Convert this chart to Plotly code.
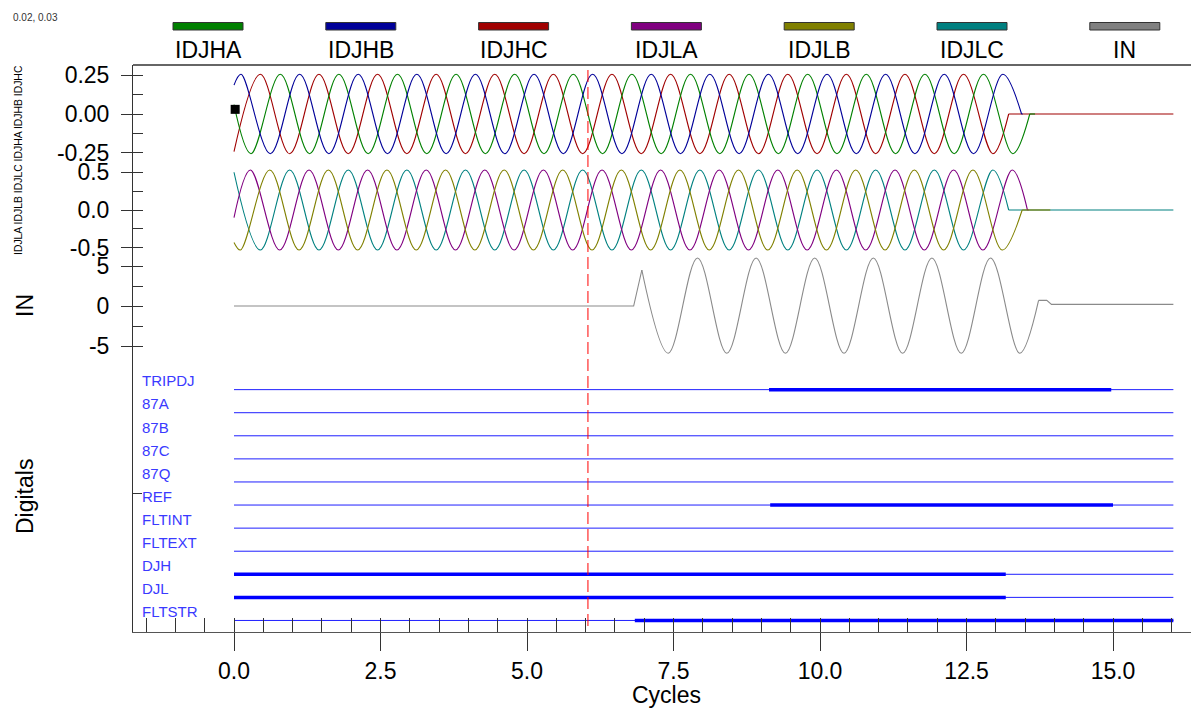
import plotly.graph_objects as go

# ---------------- data ----------------
X_END = 16.03            # last sample (cycles)
CURSOR = 6.04            # red cursor position (cycles)
READOUT = (0.02, 0.03)   # cursor read-out (cycles, value)

legend_names = ["IDJHA", "IDJHB", "IDJHC", "IDJLA", "IDJLB", "IDJLC", "IN"]
legend_colors = ["#008000", "#000099", "#a00000", "#800080", "#808000", "#008080", "#808080"]

# High-side currents: start value, successive peaks/troughs, point where the current stops
HA_t = [0.0, 0.29, 0.79, 1.29, 1.79, 2.29, 2.79, 3.29, 3.79, 4.29, 4.79, 5.29, 5.79, 6.29, 6.79,
        7.29, 7.79, 8.29, 8.79, 9.29, 9.79, 10.29, 10.79, 11.29, 11.79, 12.29, 12.79, 13.29, 13.58]
HA_v = [0.06, -0.256, 0.256, -0.256, 0.256, -0.256, 0.256, -0.256, 0.256, -0.256, 0.256, -0.256, 0.256,
        -0.256, 0.256, -0.256, 0.256, -0.256, 0.256, -0.256, 0.256, -0.256, 0.256, -0.256, 0.256,
        -0.256, 0.256, -0.256, 0.0]
HA_rest = [13.58, 13.67]

HB_t = [0.0, 0.12, 0.62, 1.12, 1.62, 2.12, 2.62, 3.12, 3.62, 4.12, 4.62, 5.12, 5.62, 6.12, 6.62,
        7.12, 7.62, 8.12, 8.62, 9.12, 9.62, 10.12, 10.62, 11.12, 11.62, 12.12, 12.62, 13.12, 13.44]
HB_v = [0.186, 0.256, -0.256, 0.256, -0.256, 0.256, -0.256, 0.256, -0.256, 0.256, -0.256, 0.256, -0.256,
        0.256, -0.256, 0.256, -0.256, 0.256, -0.256, 0.256, -0.256, 0.256, -0.256, 0.256, -0.256,
        0.256, -0.256, 0.256, 0.0]
HB_rest = [13.44, 13.46]

HC_t = [0.0, 0.45, 0.95, 1.45, 1.95, 2.45, 2.95, 3.45, 3.95, 4.45, 4.95, 5.45, 5.95, 6.45, 6.95,
        7.45, 7.95, 8.45, 8.95, 9.45, 9.95, 10.45, 10.95, 11.45, 11.95, 12.45, 12.95, 13.22]
HC_v = [-0.243, 0.256, -0.256, 0.256, -0.256, 0.256, -0.256, 0.256, -0.256, 0.256, -0.256, 0.256, -0.256,
        0.256, -0.256, 0.256, -0.256, 0.256, -0.256, 0.256, -0.256, 0.256, -0.256, 0.256, -0.256,
        0.256, -0.256, 0.0]
HC_rest = [13.22, X_END]

# Low-side currents
LA_t = [0.0, 0.28, 0.78, 1.28, 1.78, 2.28, 2.78, 3.28, 3.78, 4.28, 4.78, 5.28, 5.78, 6.28, 6.78,
        7.28, 7.78, 8.28, 8.78, 9.28, 9.78, 10.28, 10.78, 11.28, 11.78, 12.28, 12.78, 13.28, 13.54]
LA_v = [-0.10, 0.53, -0.53, 0.53, -0.53, 0.53, -0.53, 0.53, -0.53, 0.53, -0.53, 0.53, -0.53,
        0.53, -0.53, 0.53, -0.53, 0.53, -0.53, 0.53, -0.53, 0.53, -0.53, 0.53, -0.53,
        0.53, -0.53, 0.53, 0.0]
LA_rest = [13.54, 13.56]

LB_t = [0.0, 0.11, 0.61, 1.11, 1.61, 2.11, 2.61, 3.11, 3.61, 4.11, 4.61, 5.11, 5.61, 6.11, 6.61,
        7.11, 7.61, 8.11, 8.61, 9.11, 9.61, 10.11, 10.61, 11.11, 11.61, 12.11, 12.61, 13.11, 13.45]
LB_v = [-0.43, -0.53, 0.53, -0.53, 0.53, -0.53, 0.53, -0.53, 0.53, -0.53, 0.53, -0.53, 0.53,
        -0.53, 0.53, -0.53, 0.53, -0.53, 0.53, -0.53, 0.53, -0.53, 0.53, -0.53, 0.53,
        -0.53, 0.53, -0.53, 0.0]
LB_rest = [13.45, 13.93]

LC_t = [0.0, 0.45, 0.95, 1.45, 1.95, 2.45, 2.95, 3.45, 3.95, 4.45, 4.95, 5.45, 5.95, 6.45, 6.95,
        7.45, 7.95, 8.45, 8.95, 9.45, 9.95, 10.45, 10.95, 11.45, 11.95, 12.45, 12.95, 13.22]
LC_v = [0.50, -0.53, 0.53, -0.53, 0.53, -0.53, 0.53, -0.53, 0.53, -0.53, 0.53, -0.53, 0.53,
        -0.53, 0.53, -0.53, 0.53, -0.53, 0.53, -0.53, 0.53, -0.53, 0.53, -0.53, 0.53,
        -0.53, 0.53, 0.0]
LC_rest = [13.22, X_END]

# Neutral current IN
IN_pre_t = [0.0, 6.82, 6.96]
IN_pre_v = [0.0, 0.0, 4.5]
IN_osc_t = [6.96, 7.41, 7.91, 8.41, 8.91, 9.41, 9.91, 10.41, 10.91, 11.41, 11.91, 12.41, 12.91, 13.41, 13.73]
IN_osc_v = [4.5, -5.9, 6.0, -5.9, 6.0, -5.9, 6.0, -5.9, 6.0, -5.9, 6.0, -5.9, 6.0, -5.9, 0.7]
IN_post_t = [13.73, 13.87, 13.95, X_END]
IN_post_v = [0.7, 0.7, 0.2, 0.2]

# Digitals (top to bottom) and their asserted interval (cycles)
dig_names = ["TRIPDJ", "87A", "87B", "87C", "87Q", "REF", "FLTINT", "FLTEXT", "DJH", "DJL", "FLTSTR"]
dig_on = [9.13, None, None, None, None, 9.15, None, None, 0.0, 0.0, 6.84]
dig_off = [14.97, None, None, None, None, 15.00, None, None, 13.17, 13.17, X_END]

# ---------------- layout geometry ----------------
W, HGT = 1191, 708
ML, MR, MT, MB = 133, 0, 65, 76
PW, PH = W - ML - MR, HGT - MT - MB


def fx(px):
    return (px - ML) / PW


def fy(py):
    return (HGT - MB - py) / PH


FONT = "Arial, 'Liberation Sans', sans-serif"
X_RANGE = [-1.7235, -1.7235 + PW / 58.6]

fig = go.Figure()


def wave(t, v, color, yax, shape="spline"):
    fig.add_trace(go.Scatter(x=t, y=v, mode="lines", yaxis=yax, xaxis="x",
                             line=dict(color=color, width=1.1, shape=shape),
                             hoverinfo="skip", showlegend=False))


c = dict(zip(legend_names, legend_colors))
# panel 1 (high side)
for t, v, rest, name in [(HC_t, HC_v, HC_rest, "IDJHC"), (HA_t, HA_v, HA_rest, "IDJHA"),
                         (HB_t, HB_v, HB_rest, "IDJHB")]:
    wave(t, v, c[name], "y")
    wave(rest, [0.0] * len(rest), c[name], "y", "linear")
# panel 2 (low side)
for t, v, rest, name in [(LC_t, LC_v, LC_rest, "IDJLC"), (LA_t, LA_v, LA_rest, "IDJLA"),
                         (LB_t, LB_v, LB_rest, "IDJLB")]:
    wave(t, v, c[name], "y2")
    wave(rest, [0.0] * len(rest), c[name], "y2", "linear")
# panel 3 (IN)
wave(IN_pre_t, IN_pre_v, "#8a8a8a", "y3", "linear")
wave(IN_osc_t, IN_osc_v, "#8a8a8a", "y3")
wave(IN_post_t, IN_post_v, "#8a8a8a", "y3", "linear")

# cursor read-out marker
fig.add_trace(go.Scatter(x=[READOUT[0]], y=[READOUT[1]], mode="markers", xaxis="x", yaxis="y",
                         marker=dict(symbol="square", size=9, color="black"),
                         hoverinfo="skip", showlegend=False))

# digitals
n = len(dig_names)
annotations = []
for i, name in enumerate(dig_names):
    lvl = n - i - 0.5
    fig.add_trace(go.Scatter(x=[0.0, X_END], y=[lvl, lvl], mode="lines", xaxis="x", yaxis="y4",
                             line=dict(color="#1f1fff", width=1), hoverinfo="skip", showlegend=False))
    if dig_on[i] is not None:
        fig.add_trace(go.Scatter(x=[dig_on[i], dig_off[i]], y=[lvl, lvl], mode="lines", xaxis="x",
                                 yaxis="y4", line=dict(color="#0000ff", width=3.5),
                                 hoverinfo="skip", showlegend=False))
    annotations.append(dict(x=fx(140), y=lvl + 0.38, xref="paper", yref="y4", text=name,
                            showarrow=False, xanchor="left", yanchor="middle",
                            font=dict(family=FONT, size=15, color="#3a3aff")))

# legend (bars above names)
shapes = []
for i, (name, col) in enumerate(zip(legend_names, legend_colors)):
    cx = 208 + 152.8 * i
    shapes.append(dict(type="rect", xref="paper", yref="paper",
                       x0=fx(cx - 35), x1=fx(cx + 35), y0=fy(30), y1=fy(22.5),
                       fillcolor=col, line=dict(color="#333333", width=1)))
    annotations.append(dict(x=fx(cx), y=fy(50), xref="paper", yref="paper", text=name,
                            showarrow=False, xanchor="center", yanchor="middle",
                            font=dict(family=FONT, size=23, color="black")))

# top border and cursor
shapes.append(dict(type="line", xref="paper", yref="paper", x0=0, x1=1, y0=1, y1=1,
                   line=dict(color="#333333", width=1.5)))
shapes.append(dict(type="line", xref="x", yref="paper", x0=CURSOR, x1=CURSOR, y0=fy(626), y1=1,
                   line=dict(color="#ff0000", width=1, dash="12px,5px")))

# titles
annotations += [
    dict(x=fx(11), y=fy(17), xref="paper", yref="paper", text=f"{READOUT[0]:.2f}, {READOUT[1]:.2f}",
         showarrow=False, xanchor="left", yanchor="middle", font=dict(family=FONT, size=10, color="#333")),
    dict(x=fx(18), y=fy(160), xref="paper", yref="paper", text="IDJLA IDJLB IDJLC IDJHA IDJHB IDJHC",
         textangle=-90, showarrow=False, xanchor="center", yanchor="middle",
         font=dict(family=FONT, size=10.4, color="black")),
    dict(x=fx(25), y=fy(306), xref="paper", yref="paper", text="IN", textangle=-90, showarrow=False,
         xanchor="center", yanchor="middle", font=dict(family=FONT, size=23, color="black")),
    dict(x=fx(25), y=fy(497), xref="paper", yref="paper", text="Digitals", textangle=-90,
         showarrow=False, xanchor="center", yanchor="middle", font=dict(family=FONT, size=23, color="black")),
    dict(x=fx(666), y=fy(695), xref="paper", yref="paper", text="Cycles", showarrow=False,
         xanchor="center", yanchor="middle", font=dict(family=FONT, size=23, color="black")),
]


def yaxis(domain, rng, vals, texts, minor_dtick):
    return dict(domain=domain, range=rng, anchor="x", showline=True, linecolor="#333333", linewidth=1,
                tickmode="array", tickvals=vals, ticktext=texts, ticks="outside", ticklen=11,
                tickcolor="#333333", tickwidth=1, ticklabelstandoff=7,
                minor=dict(ticks="inside", ticklen=10, tickcolor="#333333", dtick=minor_dtick, tick0=0),
                tickfont=dict(family=FONT, size=23, color="black"), showgrid=False, zeroline=False,
                fixedrange=True)


fig.update_layout(
    width=W, height=HGT, margin=dict(l=ML, r=MR, t=MT, b=MB),
    paper_bgcolor="white", plot_bgcolor="white", showlegend=False,
    xaxis=dict(domain=[0, 1], range=X_RANGE, anchor="y4", showline=True, linecolor="#555555",
               linewidth=1, tickmode="linear", tick0=0, dtick=2.5, tickformat=".1f",
               ticks="outside", ticklen=18, tickcolor="#333333",
               minor=dict(ticks="inside", ticklen=14, tickcolor="#333333", dtick=0.5, tick0=0),
               tickfont=dict(family=FONT, size=23, color="black"), showgrid=False, zeroline=False,
               fixedrange=True),
    yaxis=yaxis([fy(163), 1.0], [-0.316, 0.316], [-0.25, 0.0, 0.25], ["-0.25", "0.00", "0.25"], 0.125),
    yaxis2=yaxis([fy(257), fy(163)], [-0.6225, 0.6225], [-0.5, 0.0, 0.5], ["-0.5", "0.0", "0.5"], 0.25),
    yaxis3=yaxis([fy(355), fy(257)], [-6.125, 6.125], [-5, 0, 5], ["-5", "0", "5"], 2.5),
    yaxis4=dict(domain=[0, fy(355)], range=[0, 12], anchor="x", showline=True, linecolor="#333333",
                linewidth=1, tickmode="array", tickvals=[6], ticktext=[""], ticks="inside", ticklen=9,
                tickcolor="#333333", showgrid=False, zeroline=False, fixedrange=True),
    shapes=shapes, annotations=annotations,
)

fig.write_html("out.html")
